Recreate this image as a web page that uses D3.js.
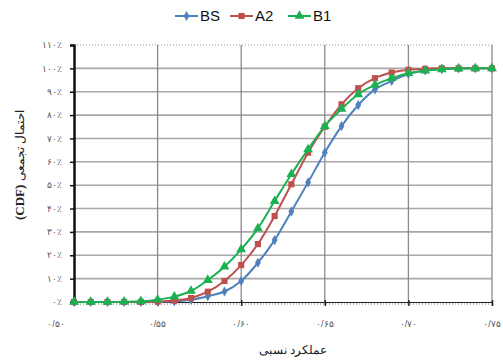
<!DOCTYPE html>
<html>
<head>
<meta charset="utf-8">
<script src="https://cdn.jsdelivr.net/npm/d3@7"></script>
<style>
  body { margin: 0; background: #fff; }
  text { font-family: "Liberation Sans", Arial, sans-serif; }
</style>
</head>
<body>
<div id="chart"></div>
<script>
// data (percent)
var xVals = [0.50, 0.51, 0.52, 0.53, 0.54, 0.55, 0.56, 0.57, 0.58, 0.59, 0.60, 0.61, 0.62,
             0.63, 0.64, 0.65, 0.66, 0.67, 0.68, 0.69, 0.70, 0.71, 0.72, 0.73, 0.74, 0.75];
var bs = [0, 0, 0, 0, 0, 0.1, 0.3, 1.0, 2.5, 4.5, 9, 16.8, 26.5, 38.7, 51.2, 64, 75.3, 84.3,
          91, 94.6, 97.6, 99.1, 99.7, 100, 100, 100];
var a2 = [0, 0, 0, 0, 0, 0.2, 0.6, 1.7, 4.4, 9, 15.8, 24.8, 36.8, 50.4, 63.9, 75, 84.6, 91.5,
          95.8, 98.2, 99.4, 99.8, 100, 100, 100, 100];
var b1 = [0, 0, 0, 0.1, 0.3, 1.0, 2.3, 4.7, 9.4, 15.1, 22.5, 31.5, 43.2, 54.7, 65.3, 75.3, 82.6,
          88.9, 92.9, 95.8, 97.9, 99, 99.6, 99.9, 100, 100];
var seriesNames = ["BS", "A2", "B1"];
var xTicks = [0.50, 0.55, 0.60, 0.65, 0.70, 0.75];
var xTickLabels = ["۰/۵۰", "۰/۵۵", "۰/۶۰", "۰/۶۵", "۰/۷۰", "۰/۷۵"];
var yTicks = [0, 10, 20, 30, 40, 50, 60, 70, 80, 90, 100, 110];
var yTickLabels = ["۰٪", "۱۰٪", "۲۰٪", "۳۰٪", "۴۰٪", "۵۰٪", "۶۰٪", "۷۰٪", "۸۰٪", "۹۰٪", "۱۰۰٪", "۱۱۰٪"];

var colors = ["#4F81BD", "#C0504D", "#1DB052"];
var symbols = [d3.symbolDiamond, d3.symbolSquare, d3.symbolTriangle];
var symSizes = [30, 38, 42];

var margin = {top: 45, right: 11, bottom: 60, left: 74},
    width = 503 - margin.left - margin.right,
    height = 362 - margin.top - margin.bottom;

var svg = d3.select("#chart")
    .append("svg")
    .attr("width", 503)
    .attr("height", 362);

var g = svg.append("g")
    .attr("transform", "translate(" + margin.left + "," + margin.top + ")");

var x = d3.scaleLinear().domain([0.50, 0.75]).range([0, width]);
var y = d3.scaleLinear().domain([0, 110]).range([height, 0]);

// horizontal grid
g.selectAll(".hgrid")
    .data(yTicks.filter(function (d) { return d > 0 && d < 110; }))
    .enter()
    .append("line")
    .attr("x1", 0)
    .attr("x2", width)
    .attr("y1", function (d) { return y(d); })
    .attr("y2", function (d) { return y(d); })
    .attr("stroke", "#a8a8a8")
    .attr("stroke-width", 1.6);

// vertical grid
g.selectAll(".vgrid")
    .data(xTicks.slice(1))
    .enter()
    .append("line")
    .attr("x1", function (d) { return x(d); })
    .attr("x2", function (d) { return x(d); })
    .attr("y1", 0)
    .attr("y2", height)
    .attr("stroke", "#8a8a8a")
    .attr("stroke-width", 1.3);

// top dotted border
g.append("line")
    .attr("x1", 0).attr("x2", width)
    .attr("y1", y(110)).attr("y2", y(110))
    .attr("stroke", "#999")
    .attr("stroke-dasharray", "1,2");

// x axis
var xAxis = g.append("g")
    .attr("transform", "translate(0," + height + ")")
    .call(d3.axisBottom(x).tickValues(xTicks).tickSize(4).tickFormat(""));
xAxis.select(".domain").attr("stroke", "#222").attr("stroke-width", 1.2);
xAxis.selectAll(".tick line").attr("stroke", "#222").attr("stroke-width", 1.5).attr("y1", -2);
g.append("line")
    .attr("x1", 0).attr("x2", width)
    .attr("y1", height + 2).attr("y2", height + 2)
    .attr("stroke", "#777")
    .attr("stroke-dasharray", "1,2");

g.selectAll(".xlab")
    .data(xTicks)
    .enter()
    .append("text")
    .attr("x", function (d, i) { return x(d) + (i === 0 ? -18 : 0); })
    .attr("y", height + 25)
    .attr("text-anchor", "middle")
    .attr("font-size", 9)
    .attr("fill", "#555")
    .text(function (d, i) { return xTickLabels[i]; });

// y axis
var yAxis = g.append("g")
    .call(d3.axisLeft(y).tickValues(yTicks).tickSize(4).tickFormat(""));
yAxis.select(".domain").attr("stroke", "#111").attr("stroke-width", 2.5);
yAxis.selectAll(".tick line").attr("stroke", "#111").attr("stroke-width", 1.5);

g.selectAll(".ylab")
    .data(yTicks)
    .enter()
    .append("text")
    .attr("x", -12)
    .attr("y", function (d) { return y(d); })
    .attr("dy", "0.35em")
    .attr("text-anchor", "end")
    .attr("font-size", 9)
    .attr("fill", "#555")
    .text(function (d, i) { return yTickLabels[i]; });

// series
var allSeries = [bs, a2, b1];
var line = d3.line()
    .x(function (d, i) { return x(xVals[i]); })
    .y(function (d) { return y(d); })
    .curve(d3.curveMonotoneX);

allSeries.forEach(function (s, k) {
    g.append("path")
        .datum(s)
        .attr("fill", "none")
        .attr("stroke", colors[k])
        .attr("stroke-width", 2)
        .attr("d", line);
    g.selectAll(".pt" + k)
        .data(s)
        .enter()
        .append("path")
        .attr("d", d3.symbol().type(symbols[k]).size(symSizes[k]))
        .attr("transform", function (d, i) {
            return "translate(" + x(xVals[i]) + "," + y(d) + ")";
        })
        .attr("fill", colors[k]);
});

// legend
var legendX = [175, 230, 288];
var leg = svg.selectAll(".leg")
    .data(seriesNames)
    .enter()
    .append("g")
    .attr("transform", function (d, i) { return "translate(" + legendX[i] + ",16)"; });
leg.append("line")
    .attr("x1", 0).attr("x2", 23)
    .attr("stroke", function (d, i) { return colors[i]; })
    .attr("stroke-width", 2);
leg.append("path")
    .attr("d", function (d, i) { return d3.symbol().type(symbols[i]).size(symSizes[i])(); })
    .attr("transform", "translate(11.5,0)")
    .attr("fill", function (d, i) { return colors[i]; });
leg.append("text")
    .attr("x", 25)
    .attr("dy", "0.36em")
    .attr("font-size", 15)
    .attr("fill", "#111")
    .text(function (d) { return d; });

// axis titles
svg.append("text")
    .attr("x", 293)
    .attr("y", 354)
    .attr("text-anchor", "middle")
    .attr("font-size", 12)
    .attr("fill", "#222")
    .text("عملکرد نسبی");

var yt = svg.append("text")
    .attr("transform", "translate(24,165) rotate(-90)")
    .attr("text-anchor", "middle")
    .attr("direction", "rtl")
    .attr("font-size", 12)
    .attr("fill", "#222");
yt.append("tspan").text("احتمال تجمعی ");
yt.append("tspan")
    .attr("font-weight", "bold")
    .attr("font-family", "'Liberation Serif', 'Times New Roman', serif")
    .attr("font-size", 13)
    .text("(CDF)");
</script>
</body>
</html>
